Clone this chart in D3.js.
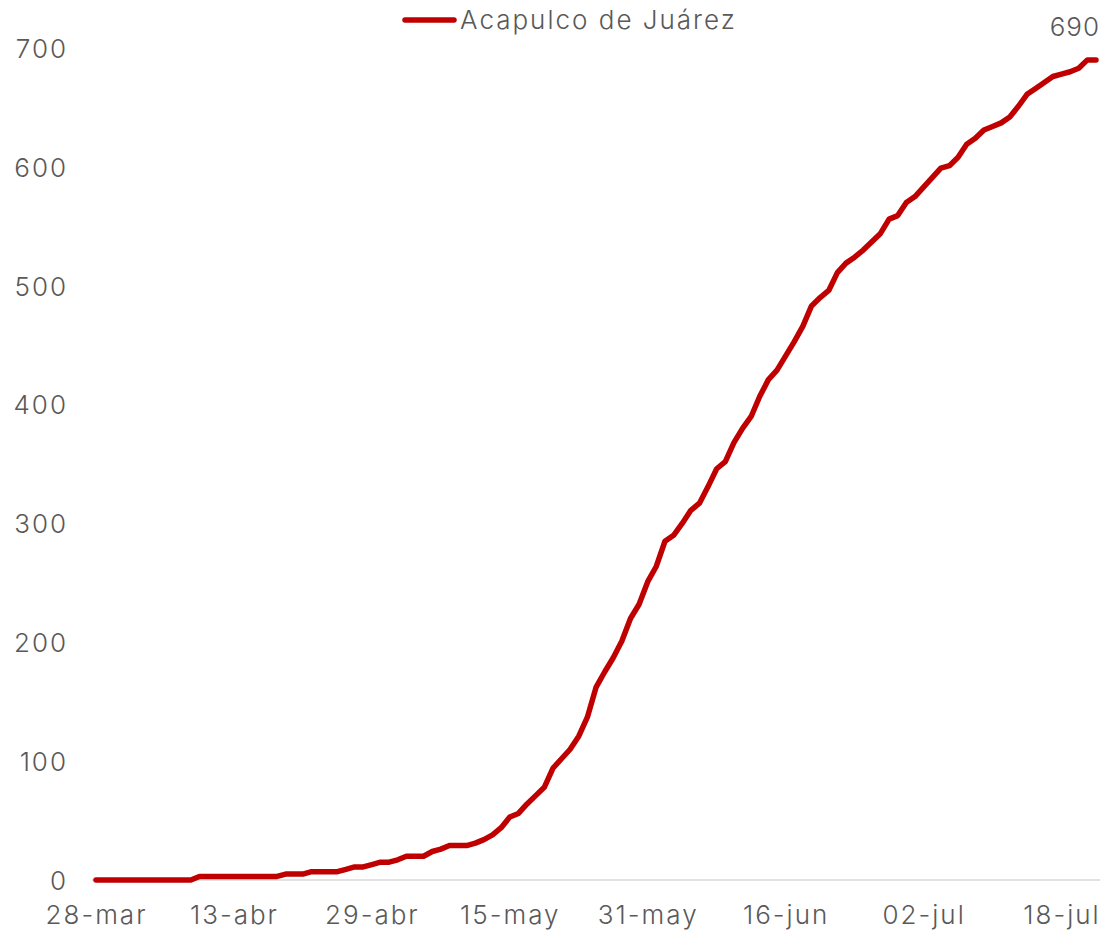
<!DOCTYPE html>
<html>
<head>
<meta charset="utf-8">
<script src="https://cdn.jsdelivr.net/npm/d3@7"></script>
<style>
  html, body { margin: 0; padding: 0; background: #ffffff; }
  svg { display: block; }
  text { font-family: Inter, "Open Sans", sans-serif; font-weight: 300; fill: #595959; letter-spacing: 2px; }
</style>
</head>
<body>
<script>
const seriesName = "Acapulco de Juárez";
const values = [
  0,0,0,0,0,0,0,0,0,0,0,0,
  3,3,3,3,3,3,3,3,3,3,
  5,5,5,
  7,7,7,7,
  9,11,11,13,15,15,17,20,20,20,24,26,29,29,29,31,34,38,44,
  53,56,64,71,78,94,102,110,121,137,162,175,187,201,220,232,
  251,264,285,290,300,311,317,331,346,352,368,380,390,407,421,429,
  441,453,466,483,490,496,511,519,524,530,537,544,556,559,570,575,
  583,591,599,601,608,619,624,631,634,637,642,651,661,666,671,676,
  678,680,683,690,690
];
const tickLabels = ["28-mar","13-abr","29-abr","15-may","31-may","16-jun","02-jul","18-jul"];
const tickEvery = 16;
const yTicks = [0,100,200,300,400,500,600,700];
const lastLabel = "690";

const W = 1102, H = 934;
const svg = d3.select("body").append("svg").attr("width", W).attr("height", H);

const n = values.length;
const x = d3.scaleLinear().domain([-0.5, n - 0.5]).range([91.7, 1100.3]);
const y = d3.scaleLinear().domain([0, 700]).range([880, 48]);

// y axis labels
const yAxis = d3.axisLeft(y).tickValues(yTicks).tickSize(0).tickPadding(0);
const gy = svg.append("g").attr("transform", "translate(68,0)").call(yAxis);
gy.select(".domain").remove();
gy.selectAll("text").style("font-size", "26px").attr("fill", "#595959").attr("dy", "0.36em");

// baseline
svg.append("line")
  .attr("x1", x(-0.5)).attr("x2", x(n - 0.5))
  .attr("y1", y(0)).attr("y2", y(0))
  .attr("stroke", "#d9d9d9").attr("stroke-width", 1.5);

// x axis labels
const xAxis = d3.axisBottom(x)
  .tickValues(tickLabels.map((d, i) => i * tickEvery))
  .tickFormat((d, i) => tickLabels[i])
  .tickSize(0).tickPadding(0);
const gx = svg.append("g").attr("transform", "translate(0,906)").call(xAxis);
gx.select(".domain").remove();
gx.selectAll("text").style("font-size", "26px").attr("fill", "#595959").attr("dy", "0.7em");

// line
const line = d3.line().x((d, i) => x(i)).y(d => y(d));
svg.append("path").datum(values)
  .attr("d", line)
  .attr("fill", "none")
  .attr("stroke", "#C00000")
  .attr("stroke-width", 5.5)
  .attr("stroke-linejoin", "round")
  .attr("stroke-linecap", "round");

// last label
svg.append("text")
  .attr("x", 1100)
  .attr("y", y(values[n - 1]) - 24)
  .attr("text-anchor", "end")
  .style("font-size", "26px")
  .style("letter-spacing", "1px")
  .text(lastLabel);

// legend
svg.append("line")
  .attr("x1", 405).attr("x2", 454).attr("y1", 20).attr("y2", 20)
  .attr("stroke", "#C00000").attr("stroke-width", 5.5).attr("stroke-linecap", "round");
svg.append("text")
  .attr("x", 460).attr("y", 29)
  .style("font-size", "26px")
  .text(seriesName);
</script>
</body>
</html>
